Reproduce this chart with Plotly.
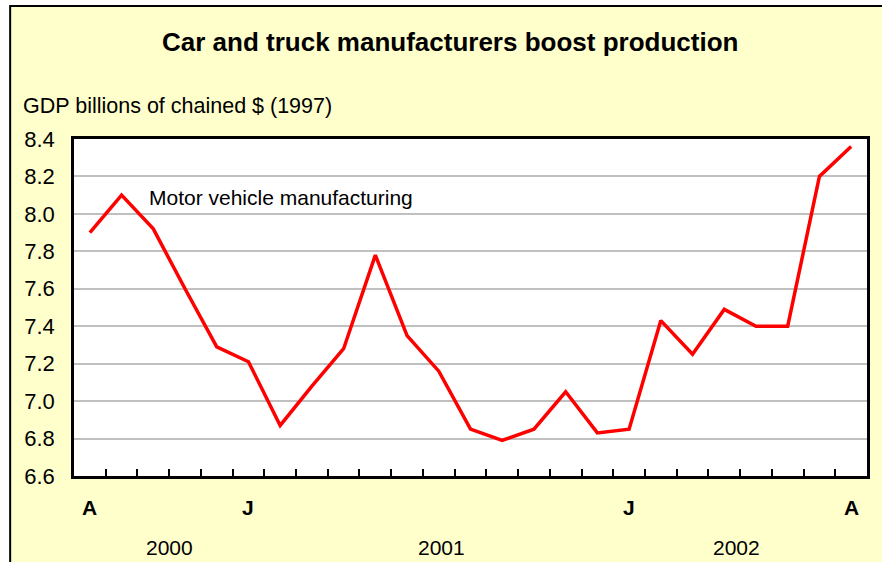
import plotly.graph_objects as go

# Monthly index: April 2000 .. April 2002 (25 months)
months = list(range(25))
gdp_values = [7.90, 8.10, 7.92, 7.60, 7.29, 7.21, 6.87, 7.08, 7.28, 7.78,
              7.35, 7.16, 6.85, 6.79, 6.85, 7.05, 6.83, 6.85, 7.43, 7.25,
              7.49, 7.40, 7.40, 8.20, 8.36]
month_label_pos = [0, 5, 17, 24]
month_labels = ["A", "J", "J", "A"]
year_label_pos = [2.5, 11.1, 20.4]
year_labels = ["2000", "2001", "2002"]
y_ticks = [6.6, 6.8, 7.0, 7.2, 7.4, 7.6, 7.8, 8.0, 8.2, 8.4]
y_tick_text = ["%.1f" % v for v in y_ticks]
series_name = "Motor vehicle manufacturing"
title_text = "Car and truck manufacturers boost production"
y_title = "GDP billions of chained $ (1997)"

FONT = "Liberation Sans, Arial, sans-serif"

fig = go.Figure()
fig.add_trace(go.Scatter(
    x=months, y=gdp_values, mode="lines", name=series_name,
    line=dict(color="#FF0000", width=3.5), showlegend=False,
    hoverinfo="skip",
))

L, R, T, B = 74, 13, 139, 86
W, H = 882, 562
pw, ph = W - L - R, H - T - B

def px_to_paper_x(px):
    return (px - L) / pw

def px_to_paper_y(py):
    return (H - B - py) / ph

shapes = [
    # yellow framed background
    dict(type="rect", xref="paper", yref="paper",
         x0=px_to_paper_x(10), x1=px_to_paper_x(W + 20),
         y0=px_to_paper_y(H + 20), y1=px_to_paper_y(6),
         fillcolor="#FFFFCC", line=dict(color="black", width=2), layer="below"),
    # white plot area
    dict(type="rect", xref="paper", yref="paper", x0=0, x1=1, y0=0, y1=1,
         fillcolor="white", line=dict(width=0), layer="below"),
]

annotations = [
    dict(text=series_name, x=px_to_paper_x(147), y=px_to_paper_y(197), xref="paper", yref="paper",
         xanchor="left", yanchor="middle", showarrow=False,
         font=dict(family=FONT, size=21, color="black")),
    dict(text=y_title, x=px_to_paper_x(21), y=px_to_paper_y(106), xref="paper", yref="paper",
         xanchor="left", yanchor="middle", showarrow=False,
         font=dict(family=FONT, size=21.5, color="black")),
    dict(text="<b>%s</b>" % title_text, x=px_to_paper_x(451), y=px_to_paper_y(42),
         xref="paper", yref="paper", xanchor="center", yanchor="middle", showarrow=False,
         font=dict(family=FONT, size=26, color="black")),
]
for p, t in zip(month_label_pos, month_labels):
    annotations.append(dict(text="<b>%s</b>" % t, x=p, y=px_to_paper_y(507), xref="x", yref="paper",
                            xanchor="center", yanchor="middle", showarrow=False,
                            font=dict(family=FONT, size=21, color="black")))
for p, t in zip(year_label_pos, year_labels):
    annotations.append(dict(text=t, x=p, y=px_to_paper_y(547), xref="x", yref="paper",
                            xanchor="center", yanchor="middle", showarrow=False,
                            font=dict(family=FONT, size=21, color="black")))

fig.update_layout(
    width=W, height=H,
    margin=dict(l=L, r=R, t=T, b=B, pad=0),
    paper_bgcolor="white",
    plot_bgcolor="rgba(0,0,0,0)",
    shapes=shapes,
    annotations=annotations,
    xaxis=dict(range=[-0.5, 24.5], tickvals=[i + 0.5 for i in range(24)],
               ticks="inside", ticklen=7, tickwidth=1.5, tickcolor="black",
               showticklabels=False, showgrid=False, zeroline=False,
               showline=True, linecolor="black", linewidth=2.5, mirror=True,
               fixedrange=True),
    yaxis=dict(range=[6.6, 8.4], tickvals=y_ticks, ticktext=y_tick_text,
               ticks="", showgrid=True, gridcolor="#C0C0C0", gridwidth=1.5,
               zeroline=False, showline=True, linecolor="black", linewidth=2.5,
               mirror=True, ticklabelstandoff=12,
               tickfont=dict(family=FONT, size=22, color="black"), fixedrange=True),
    font=dict(family=FONT, color="black"),
)

fig.write_html("out.html", config={"displayModeBar": False},
               post_script="document.body.style.margin='0';document.body.style.overflow='hidden';")
